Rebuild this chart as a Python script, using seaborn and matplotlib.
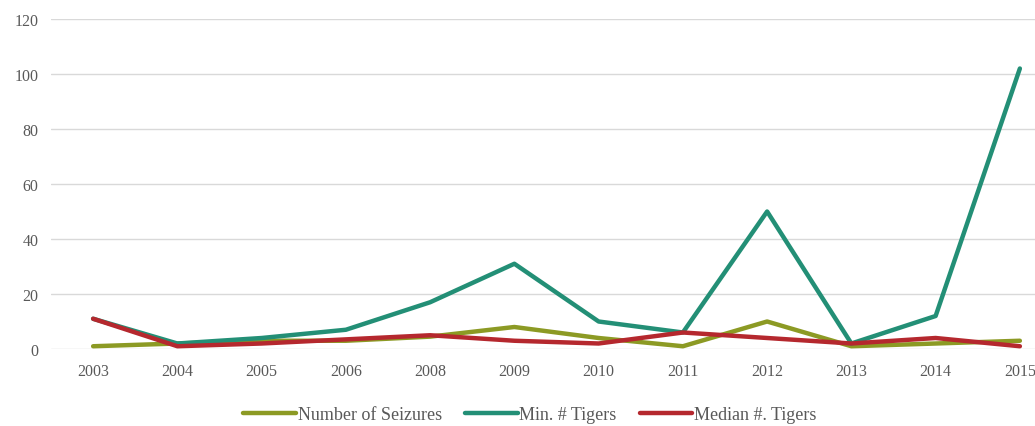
import numpy as np
import pandas as pd
import matplotlib
matplotlib.use('Agg')
import matplotlib.pyplot as plt
import seaborn as sns

years = ['2003', '2004', '2005', '2006', '2008', '2009', '2010',
         '2011', '2012', '2013', '2014', '2015']
seizures = [1, 2, 3, 3, 4.5, 8, 4, 1, 10, 1, 2, 3]
min_tigers = [11, 2, 4, 7, 17, 31, 10, 6, 50, 2, 12, 102]
median_tigers = [11, 1, 2, 3.5, 5, 3, 2, 6, 4, 2, 4, 1]

series_names = ['Number of Seizures', 'Min. # Tigers', 'Median #. Tigers']
colors = ['#8c9a24', '#238f76', '#b5282e']

df = pd.concat([
    pd.DataFrame({'year': years, 'value': vals, 'series': name})
    for name, vals in zip(series_names, [seizures, min_tigers, median_tigers])
])

sns.set_theme(style='white')
plt.rcParams['font.family'] = ['Liberation Serif', 'DejaVu Serif']

fig = plt.figure(figsize=(10.35, 4.27), dpi=100)
ax = fig.add_axes([51 / 1035, 77 / 427, (1062 - 51) / 1035, 330 / 427])

sns.lineplot(data=df, x='year', y='value', hue='series', hue_order=series_names,
             palette=colors, linewidth=3.2, ax=ax, sort=False)

ax.set_xlim(-0.5, len(years) - 0.5)
ax.set_ylim(0, 120)
ax.set_yticks(np.arange(0, 121, 20))
ax.yaxis.grid(True, color='#d9d9d9', linewidth=1)
ax.xaxis.grid(False)
for s in ax.spines.values():
    s.set_visible(False)
ax.tick_params(axis='both', colors='#595959', labelsize=11.5, length=0)
ax.tick_params(axis='x', pad=10)
ax.tick_params(axis='y', pad=9)
ax.set_xlabel('')
ax.set_ylabel('')

handles, labels = ax.get_legend_handles_labels()
ax.legend(handles, labels, loc='center', bbox_to_anchor=(530 / 1035, 11 / 427),
          bbox_transform=fig.transFigure, ncol=3, frameon=False,
          fontsize=13, handlelength=2.9, handletextpad=0.1, columnspacing=1.3,
          labelcolor='#595959')

fig.savefig('out.png', dpi=100)
